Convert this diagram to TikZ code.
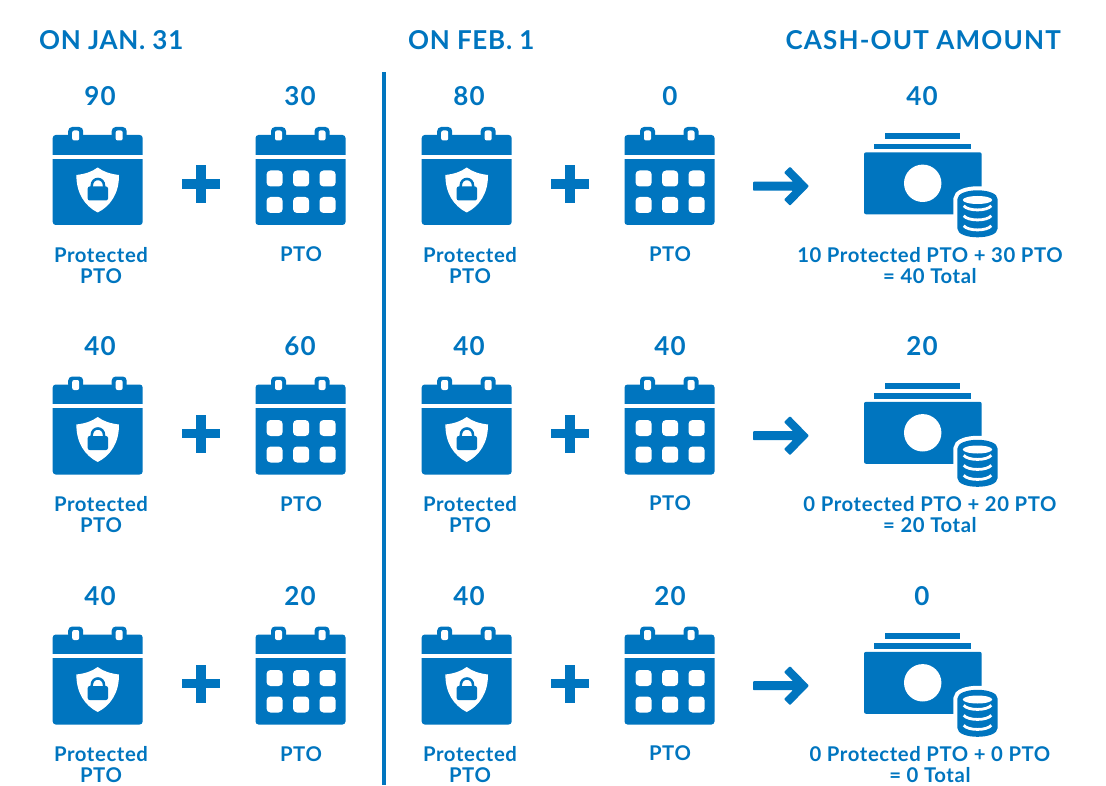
\documentclass[tikz,border=0pt]{standalone}
\usepackage{fontspec}
\setmainfont{Lato}
\definecolor{ptoblue}{HTML}{0075BF}
\tikzset{
 x=1pt,y=-1pt,
 fillb/.style={fill=ptoblue,draw=none},
 fillw/.style={fill=white,draw=none},
 head/.style={text=ptoblue,font=\fontsize{26}{28}\selectfont\bfseries\addfontfeature{LetterSpace=4.5},inner sep=0,anchor=base},
 headtight/.style={head,font=\fontsize{26}{28}\selectfont\bfseries\addfontfeature{LetterSpace=2.8}},
 num/.style={text=ptoblue,font=\fontsize{26}{28}\selectfont\bfseries\addfontfeature{LetterSpace=4},inner sep=0,anchor=center},
 lab/.style={text=ptoblue,font=\fontsize{20.3}{21}\selectfont\bfseries\addfontfeature{LetterSpace=3},inner sep=0,align=center,anchor=center},
 pics/calbase/.style={code={
  \fill[fillb,rounded corners=3] (0,0) rectangle (90,90);
  \fill[fillw] (-1,19.7) rectangle (91,23.7);
  \foreach \r in {15.5,59} {
   \fill[fillb,rounded corners=4] (\r,-8) rectangle ++(15,12);
   \fill[fillw,rounded corners=2] (\r+4,-4.5) rectangle ++(7,10);
  }
 }},
 pics/calshield/.style={code={
  \pic at (0,0) {calbase};
  \fill[fillw] (45,32.5) .. controls (51,37) and (58,39) .. (66.3,40)
    .. controls (66.5,58) and (58,71) .. (45,77.5)
    .. controls (32,71) and (23.5,58) .. (23.7,40)
    .. controls (32,39) and (39,37) .. (45,32.5) -- cycle;
  \fill[fillb,rounded corners=2] (35,51.5) rectangle (55.3,65.5);
  \draw[ptoblue,line width=2.5] (39,53) -- (39,51) .. controls (39,41.6) and (51.4,41.6) .. (51.4,51) -- (51.4,53);
 }},
 pics/calgrid/.style={code={
  \pic at (0,0) {calbase};
  \foreach \cx in {11,37.5,64} \foreach \cy in {35.5,62}
   \fill[fillw,rounded corners=4] (\cx,\cy) rectangle ++(16.2,16);
 }},
 pics/plusicon/.style={code={
  \fill[fillb] (0,14.3) rectangle (38.3,23.7);
  \fill[fillb] (14.3,0) rectangle (24,38.3);
 }},
 pics/arrowicon/.style={code={
  \fill[fillb,rounded corners=0.8] (37,-15) -- (56,4.5) -- (37,24) -- (31,18) -- (40,9) -- (0,9) -- (0,0) -- (40,0) -- (31,-9) -- cycle;
 }},
 pics/cashicon/.style={code={
  \fill[fillb] (21,0) rectangle (96.3,5.7);
  \fill[fillb] (10.3,10.4) rectangle (107,16);
  \fill[fillb,rounded corners=2] (0,19) rectangle (117.7,81);
  \fill[fillw] (58.7,50) circle[radius=18.7];
  % coin stack: white halo, body, top face, bands
  \path[fill=white,draw=white,line width=8] (93.3,66) .. controls (93.3,54) and (133.7,54) .. (133.7,66) -- (133.7,95) .. controls (133.7,107) and (93.3,107) .. (93.3,95) -- cycle;
  \fill[fillb] (93.3,66) .. controls (93.3,54) and (133.7,54) .. (133.7,66) -- (133.7,95) .. controls (133.7,107) and (93.3,107) .. (93.3,95) -- cycle;
  \fill[fillw] (113.5,66.7) ellipse[x radius=14.7,y radius=4];
  \foreach \s in {72.5,82.5,92.5} {
   \draw[white,line width=2.8] (99.7,\s) .. controls (104,\s+5.5) and (123,\s+5.5) .. (127.3,\s);
  }
 }}
}
\begin{document}
\begin{tikzpicture}
\useasboundingbox (0,0) rectangle (1106,786);
\node[headtight,anchor=base west] (h1) at (39,49.5) {ON JAN. 31};
\node[headtight,anchor=base west] (h2) at (408,49.5) {ON FEB. 1};
\node[head,anchor=base east] (h3) at (1061,49.5) {CASH-OUT AMOUNT};
\fill[ptoblue] (382,72) rectangle (385.5,785);
\foreach \row/\dy/\a/\b/\c/\d/\e/\lone/\ltwo in {
 1/0/90/30/80/0/40/10 Protected PTO + 30 PTO/= 40 Total,
 2/249.5/40/60/40/40/20/0 Protected PTO + 20 PTO/= 20 Total,
 3/499.5/40/20/40/20/0/0 Protected PTO + 0 PTO/= 0 Total}{
 \begin{scope}[yshift=-\dy pt]
  \node[num] (n\row a) at (100,96.5) {\a};
  \node[num] (n\row b) at (300,96.5) {\b};
  \node[num] (n\row c) at (469,96.5) {\c};
  \node[num] (n\row d) at (670,96.5) {\d};
  \node[num] (n\row e) at (922,96.5) {\e};
  \pic at (52.7,135) {calshield};
  \pic at (255.5,135) {calgrid};
  \pic at (421.7,135) {calshield};
  \pic at (624.5,135) {calgrid};
  \pic at (181.7,165) {plusicon};
  \pic at (550.7,165) {plusicon};
  \pic at (753,181.7) {arrowicon};
  \pic at (864,133.3) {cashicon};
  \node[lab] (l\row a) at (101,265.5) {Protected\\PTO};
  \node[lab] (l\row b) at (301,254.5) {PTO};
  \node[lab] (l\row c) at (470,265.5) {Protected\\PTO};
  \node[lab] (l\row d) at (670,254) {PTO};
  \node[lab] (l\row e) at (930,265.5) {\lone\\\ltwo};
 \end{scope}
}
\end{tikzpicture}
\end{document}
